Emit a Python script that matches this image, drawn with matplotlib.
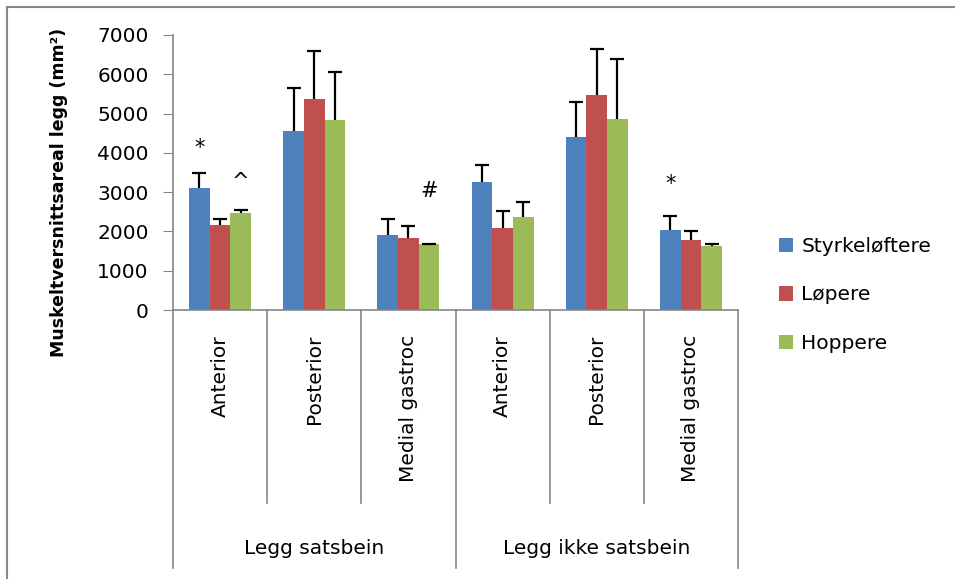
import numpy as np
import matplotlib
matplotlib.use('Agg')
import matplotlib.pyplot as plt
from matplotlib.patches import Rectangle

plt.rcParams['font.family'] = ['DejaVu Sans']

# Data
categories = ['Anterior', 'Posterior', 'Medial gastroc',
              'Anterior', 'Posterior', 'Medial gastroc']
groups = ['Legg satsbein', 'Legg ikke satsbein']
series = ['Styrkeløftere', 'Løpere', 'Hoppere']

styrke = [3110, 4565, 1900, 3250, 4395, 2035]
styrke_err = [385, 1080, 420, 440, 900, 350]
lopere = [2155, 5380, 1825, 2080, 5475, 1790]
lopere_err = [150, 1220, 315, 450, 1170, 220]
hoppere = [2480, 4835, 1670, 2375, 4870, 1620]
hoppere_err = [75, 1230, 20, 380, 1530, 70]

# significance marks: (category, series index, y, symbol)
marks = [(0, 0, 4120, '*'), (0, 2, 3250, '^'), (2, 2, 3030, '#'), (5, 0, 3200, '*')]

colors = ['#4F81BD', '#C0504D', '#9BBB59']
gray = '#868686'

W, H = 955, 579
fig = plt.figure(figsize=(W / 100, H / 100), dpi=100)
ax = fig.add_axes([173 / W, (H - 310) / H, (738 - 173) / W, 275 / H])

x = np.arange(len(categories))
bw = 0.22
values = [styrke, lopere, hoppere]
errs = [styrke_err, lopere_err, hoppere_err]
for k in range(3):
    pos = x + (k - 1) * bw
    ax.bar(pos, values[k], bw, color=colors[k], label=series[k], zorder=2)
    eb = ax.errorbar(pos, values[k], yerr=[np.zeros(len(x)), errs[k]], fmt='none',
                     ecolor='black', elinewidth=1.6, capsize=5, capthick=1.6, zorder=3)
    # only the upper cap is drawn
    eb[1][0].set_visible(False)

for c, s, yv, sym in marks:
    ax.text(c + (s - 1) * bw, yv, sym, ha='center', va='center', fontsize=15)

ax.set_xlim(-0.5, len(categories) - 0.5)
ax.set_ylim(0, 7000)
ax.set_yticks(range(0, 7001, 1000))
ax.tick_params(axis='y', labelsize=14.5, length=7, color=gray, pad=10.5)
ax.set_xticks([])
for side in ['top', 'right']:
    ax.spines[side].set_visible(False)
for side in ['left', 'bottom']:
    ax.spines[side].set_color(gray)
    ax.spines[side].set_linewidth(1.2)

ax.set_ylabel('Muskeltversnittsareal legg (mm²)', fontsize=12.5, fontweight='bold')
ax.yaxis.set_label_coords((68 - 173) / 565, (310 - 192) / 275)

# multi-level category axis below the plot
trans = ax.get_xaxis_transform()
inner_bottom = -(503 - 310) / 275
outer_bottom = -(568 - 310) / 275
for b in np.arange(len(categories) + 1) - 0.5:
    if b in (-0.5, 2.5, 5.5):
        ax.plot([b, b], [0, outer_bottom], color=gray, lw=1.2, transform=trans, clip_on=False)
    else:
        ax.plot([b, b], [0, inner_bottom], color=gray, lw=1.2, transform=trans, clip_on=False)
for i, name in enumerate(categories):
    ax.text(i, -(335 - 310) / 275, name, rotation=90, ha='center', va='top',
            fontsize=14.5, transform=trans)
for j, name in enumerate(groups):
    ax.text(1 + 3 * j, -(548 - 310) / 275, name, ha='center', va='center',
            fontsize=14.5, transform=trans)

ax.legend(loc='center left', bbox_to_anchor=(761 / W, 1 - 295 / H),
          bbox_transform=fig.transFigure, frameon=False, fontsize=14.5,
          handlelength=0.7, handleheight=0.7, handletextpad=0.4, labelspacing=1.48)

# chart border
fig.patches.append(Rectangle((7 / W, -0.01), 1.0, 1 - 7 / H + 0.01, transform=fig.transFigure,
                             fill=False, edgecolor=gray, lw=1.5))

fig.savefig('out.png', dpi=100)
